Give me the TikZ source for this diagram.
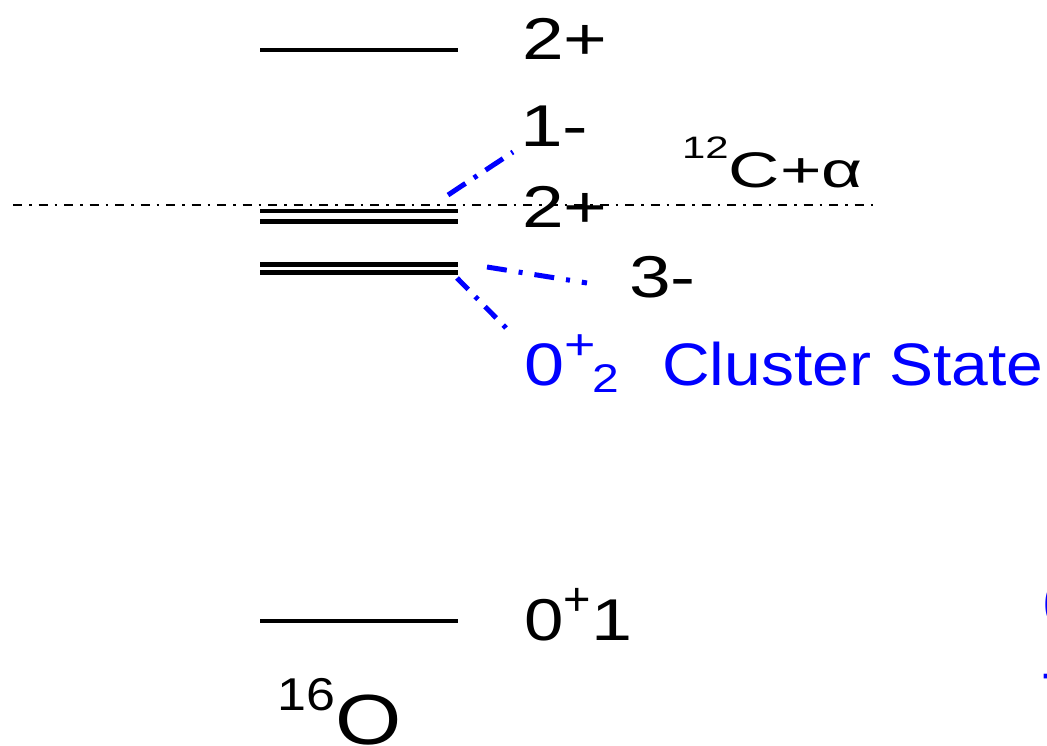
\documentclass[tikz,border=0pt]{standalone}
\usepackage{fontspec}
\setmainfont{Liberation Sans}
\begin{document}
\begin{tikzpicture}[x=1pt,y=-1pt,
  lbl/.style={inner sep=0pt, anchor=base west, font=\fontsize{59}{60}\selectfont},
  blbl/.style={lbl, text=blue, font=\fontsize{60}{62}\selectfont},
  lev/.style={line width=4.5pt},
  thr/.style={line width=1.8pt, dash pattern=on 9pt off 7pt on 2.5pt off 7pt},
  conn/.style={blue, line width=5pt, dash pattern=on 21pt off 10pt on 4pt off 10pt}]
\useasboundingbox (0,0) rectangle (1047,746);
% levels
\draw[lev] (260,50) -- (458,50);
\draw[lev] (260,211) -- (458,211);
\draw[lev] (260,221.5) -- (458,221.5);
\draw[lev] (260,264.5) -- (458,264.5);
\draw[lev] (260,272.5) -- (458,272.5);
\draw[lev] (260,621) -- (458,621);
% threshold
\coordinate (thA) at (13,205);
\coordinate (thB) at (875,205);
\draw[thr] (thA) -- (thB);
% labels
\node[lbl] (t2a) at (522,60) {\scalebox{1.27}[1]{2+}};
\node[lbl] (t1m) at (520,147) {\scalebox{1.3}[1]{1-}};
\node[lbl] (t2b) at (522,228) {\scalebox{1.27}[1]{2+}};
\node[lbl] (t3m) at (629,297) {\scalebox{1.27}[1]{3-}};
\node[blbl] (t02) at (524,385) {\scalebox{1.2}[1]{0}\raisebox{26pt}{\fontsize{43}{43}\selectfont\scalebox{1.25}[1]{+}}\kern-3pt\raisebox{-7pt}{\fontsize{40}{40}\selectfont\scalebox{1.2}[1]{2}}};
\node[blbl] (tcs) at (662,385) {\scalebox{1.1}[1]{Cluster State}};
\node[lbl] (t01) at (524,640) {\scalebox{1.2}[1]{0}\raisebox{25pt}{\fontsize{47}{47}\selectfont+}\scalebox{1.25}[1]{1}};
\node[lbl, font=\fontsize{50}{52}\selectfont] (tca) at (682,188) {\raisebox{29pt}{\fontsize{31}{31}\selectfont\scalebox{1.35}[1]{12}}\scalebox{1.42}[1]{C+α}};
\node[lbl, font=\fontsize{71}{72}\selectfont] (to16) at (277,744) {\raisebox{34pt}{\fontsize{46}{46}\selectfont\scalebox{1.13}[1]{16}}\scalebox{1.2}[1]{O}};
% clipped fragments at right edge
\node[blbl] (frag0) at (1043,625) {0};
\node[blbl] (frag1) at (1041,692) {-};
% connectors
\coordinate (c1a) at (448,195);
\coordinate (c1b) at (513,152);
\coordinate (c3a) at (487,267);
\coordinate (c3b) at (587,283);
\coordinate (c0a) at (457,278);
\coordinate (c0b) at (507,329);
\draw[conn] (c1a) -- (c1b);
\draw[conn, dash pattern=on 20pt off 12pt on 4pt off 12pt] (c3a) -- (c3b);
\draw[conn, dash pattern=on 16pt off 10pt on 4pt off 10pt] (c0a) -- (c0b);
\end{tikzpicture}
\end{document}
